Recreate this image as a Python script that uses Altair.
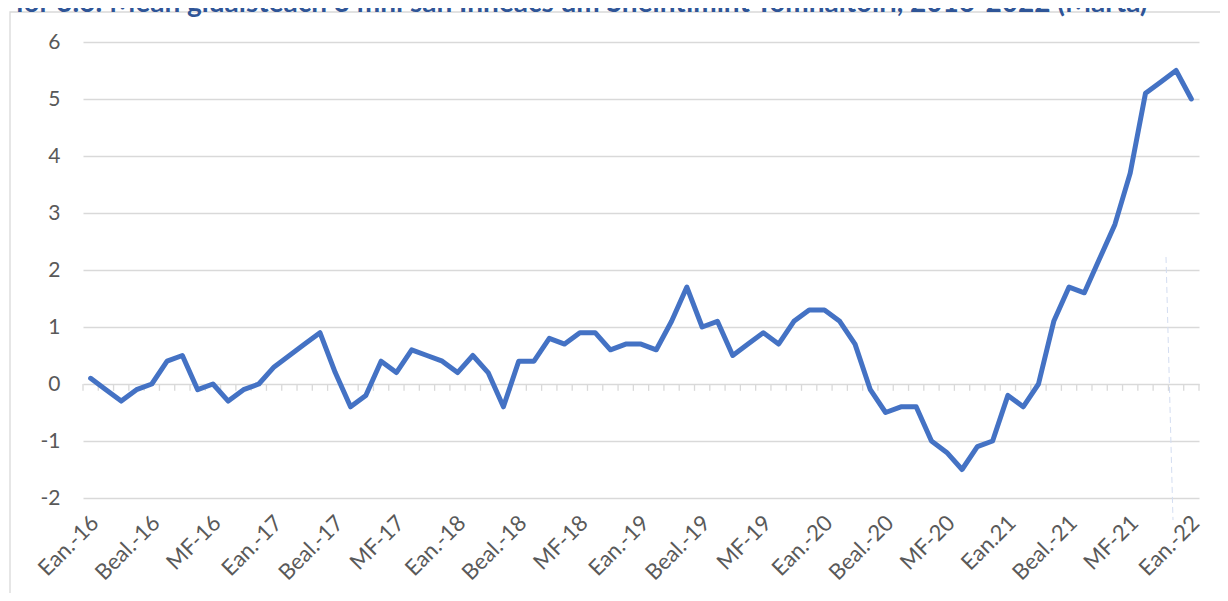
import altair as alt
import pandas as pd

title_text = "Fíor 3.6: Meán gluaisteach 3 mhí san Innéacs um Sheintimint Tomhaltóirí, 2016-2022 (Márta)"

tick_labels = ["Ean.-16", "Beal.-16", "MF-16", "Ean.-17", "Beal.-17", "MF-17",
               "Ean.-18", "Beal.-18", "MF-18", "Ean.-19", "Beal.-19", "MF-19",
               "Ean.-20", "Beal.-20", "MF-20", "Ean.21", "Beal.-21", "MF-21", "Ean.-22"]

years = [2016, 2017, 2018, 2019, 2020, 2021, 2022]
month_nums = list(range(1, 13))
months = [f"{y}-{m:02d}" for y in years for m in month_nums][:73]

values = [0.1, -0.1, -0.3, -0.1, 0.0, 0.4, 0.5, -0.1, 0.0, -0.3, -0.1, 0.0,
          0.3, 0.5, 0.7, 0.9, 0.2, -0.4, -0.2, 0.4, 0.2, 0.6, 0.5, 0.4,
          0.2, 0.5, 0.2, -0.4, 0.4, 0.4, 0.8, 0.7, 0.9, 0.9, 0.6, 0.7,
          0.7, 0.6, 1.1, 1.7, 1.0, 1.1, 0.5, 0.7, 0.9, 0.7, 1.1, 1.3,
          1.3, 1.1, 0.7, -0.1, -0.5, -0.4, -0.4, -1.0, -1.2, -1.5, -1.1, -1.0,
          -0.2, -0.4, 0.0, 1.1, 1.7, 1.6, 2.2, 2.8, 3.7, 5.1, 5.3, 5.5,
          5.0]

y_ticks = [-2, -1, 0, 1, 2, 3, 4, 5, 6]

W, H = 1116, 456
FONT = "Lato"
LABEL_COLOR = "#595959"
GRID = "#D9D9D9"

df = pd.DataFrame({"idx": list(range(len(values))), "month": months, "value": values})
bounds = pd.DataFrame({"idx": [k - 0.5 for k in range(len(values) + 1)]})
bounds["value"] = 0.0
bounds["v2"] = -0.12

label_expr = "[" + ",".join(f"'{l}'" for l in tick_labels) + "][round(datum.value/4)]"

xscale = alt.Scale(domain=[-0.5, len(values) - 0.5], nice=False, zero=False)
yscale = alt.Scale(domain=[-2, 6], nice=False, zero=False)

x_axis = alt.Axis(values=list(range(0, 73, 4)), labelExpr=label_expr, labelAngle=-45,
                  labelAlign="right", labelBaseline="middle", ticks=False, domain=False,
                  grid=False, labelPadding=21, labelOffset=4, title=None, labelFont=FONT,
                  labelFontSize=22, labelColor=LABEL_COLOR, labelOverlap=False)
y_axis = alt.Axis(values=y_ticks, labelExpr="'' + datum.value", grid=True, gridColor=GRID,
                  gridWidth=1.3, domain=False, ticks=False, labelPadding=23, title=None,
                  labelFont=FONT, labelFontSize=21, labelColor=LABEL_COLOR)

line = alt.Chart(df).mark_line(color="#4472C4", strokeWidth=5, strokeJoin="round", strokeCap="round").encode(
    x=alt.X("idx:Q", scale=xscale, axis=x_axis),
    y=alt.Y("value:Q", scale=yscale, axis=y_axis),
)

ticks = alt.Chart(bounds).mark_rule(color=GRID, strokeWidth=1.3).encode(
    x=alt.X("idx:Q", scale=xscale, axis=x_axis),
    y=alt.Y("value:Q", scale=yscale, axis=y_axis),
    y2="v2:Q",
)

frame = alt.Chart(pd.DataFrame({"a": [0]})).mark_rect(
    fill="white", fillOpacity=0, stroke=GRID, strokeWidth=1.3
).encode(x=alt.value(-73), x2=alt.value(1300), y=alt.value(-30), y2=alt.value(700))

dash = alt.Chart(pd.DataFrame({"a": [0]})).mark_rule(
    color="#D3DDF1", strokeWidth=1, strokeDash=[6, 4]
).encode(x=alt.value(1083), x2=alt.value(1090), y=alt.value(215), y2=alt.value(478))

title = alt.Chart(pd.DataFrame({"t": [title_text]})).mark_text(
    align="left", baseline="alphabetic", font=FONT, fontWeight="bold", fontSize=28, color="#2F5597"
).encode(x=alt.value(-82), y=alt.value(-30), text="t:N")

chart = alt.layer(frame, dash, ticks, line, title).properties(
    width=W, height=H,
    autosize=alt.AutoSizeParams(type="none"),
    padding={"left": 75, "top": 34, "right": 21, "bottom": 95},
).configure_view(stroke=None)

chart.save("out.html", embed_options={"renderer": "svg", "actions": False})
